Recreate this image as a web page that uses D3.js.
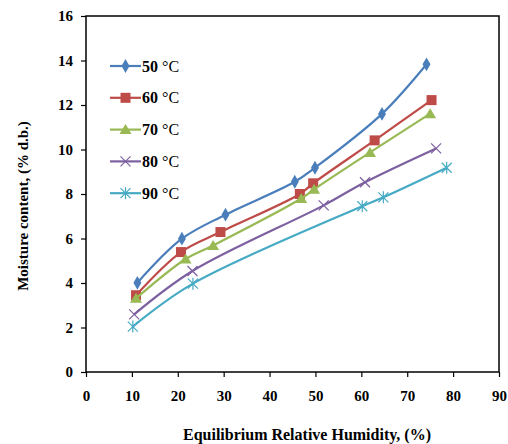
<!DOCTYPE html>
<html>
<head>
<meta charset="utf-8">
<script src="https://cdn.jsdelivr.net/npm/d3@7"></script>
<style>
  body { margin: 0; background: #fff; }
  svg text { font-family: "Times New Roman", "Liberation Serif", Times, "DejaVu Serif", serif; font-weight: bold; fill: #000; }
</style>
</head>
<body>
<div id="chart"></div>
<script>
// Series data (x = ERH %, y = moisture content % d.b.)
var seriesNames = ["50 °C", "60 °C", "70 °C", "80 °C", "90 °C"];
var seriesColors = ["#4A7EBB", "#BE4B48", "#98B954", "#7D60A0", "#46AAC5"];
var seriesMarkers = ["diamond", "square", "triangle", "cross", "star"];

var erh50 = [11.2, 20.9, 30.4, 45.5, 49.9, 64.5, 74.2];
var mc50  = [4.01, 5.99, 7.07, 8.55, 9.18, 11.6, 13.83];
var erh60 = [10.9, 20.7, 29.3, 46.6, 49.5, 62.9, 75.3];
var mc60  = [3.45, 5.39, 6.29, 8.0, 8.48, 10.41, 12.22];
var erh70 = [10.9, 21.7, 27.7, 46.9, 49.7, 61.9, 75.0];
var mc70  = [3.31, 5.08, 5.69, 7.8, 8.21, 9.87, 11.61];
var erh80 = [10.5, 23.2, 51.8, 60.8, 76.3];
var mc80  = [2.59, 4.54, 7.49, 8.53, 10.05];
var erh90 = [10.2, 23.3, 60.2, 64.8, 78.6];
var mc90  = [2.04, 3.97, 7.45, 7.85, 9.18];

var xTicks = [0, 10, 20, 30, 40, 50, 60, 70, 80, 90];
var yTicks = [0, 2, 4, 6, 8, 10, 12, 14, 16];

var allX = [erh50, erh60, erh70, erh80, erh90];
var allY = [mc50, mc60, mc70, mc80, mc90];

var series = seriesNames.map(function(name, i) {
  return {
    name: name,
    color: seriesColors[i],
    marker: seriesMarkers[i],
    points: allX[i].map(function(x, j) { return {x: x, y: allY[i][j]}; })
  };
});

// SVG area
var svgWidth = 508;
var svgHeight = 444;
var margin = {top: 16, right: 9, bottom: 72, left: 86};
var chartWidth = svgWidth - margin.left - margin.right;
var chartHeight = svgHeight - margin.top - margin.bottom;

var svg = d3.select("#chart")
  .append("svg")
  .attr("width", svgWidth)
  .attr("height", svgHeight);

var chartGroup = svg.append("g")
  .attr("transform", `translate(${margin.left}, ${margin.top})`);

var xScale = d3.scaleLinear().domain([0, 90]).range([0, chartWidth]);
var yScale = d3.scaleLinear().domain([0, 16]).range([chartHeight, 0]);

// Axes
var bottomAxis = d3.axisBottom(xScale).tickValues(xTicks).tickSize(5).tickPadding(13).tickSizeOuter(0);
var leftAxis = d3.axisLeft(yScale).tickValues(yTicks).tickSize(5).tickPadding(8).tickSizeOuter(0);

var xg = chartGroup.append("g")
  .attr("transform", `translate(0, ${chartHeight})`)
  .call(bottomAxis);
var yg = chartGroup.append("g").call(leftAxis);

[xg, yg].forEach(function(g) {
  g.attr("font-family", null).attr("font-size", null);
  g.select(".domain").remove();
  g.selectAll(".tick line").attr("stroke", "#000").attr("stroke-width", 1.2);
  g.selectAll(".tick text")
    .style("font-size", "15px")
    .attr("fill", "#000");
});

// Plot frame
chartGroup.append("rect")
  .attr("width", chartWidth)
  .attr("height", chartHeight)
  .attr("fill", "none")
  .attr("stroke", "#000")
  .attr("stroke-width", 1.5);

// Marker drawing
function drawMarker(g, type, color) {
  if (type === "diamond") {
    g.append("path").attr("d", d3.symbol(d3.symbolDiamond, 55)()).attr("fill", color);
  } else if (type === "square") {
    g.append("rect").attr("x", -5).attr("y", -5).attr("width", 10).attr("height", 10).attr("fill", color);
  } else if (type === "triangle") {
    g.append("path").attr("d", "M0,-5.5L6,4.5L-6,4.5Z").attr("fill", color);
  } else if (type === "cross") {
    g.append("path").attr("d", "M-5,-5L5,5M-5,5L5,-5")
      .attr("stroke", color).attr("stroke-width", 1.2).attr("fill", "none");
  } else if (type === "star") {
    g.append("path").attr("d", "M-5,-5L5,5M-5,5L5,-5M0,-6L0,6")
      .attr("stroke", color).attr("stroke-width", 1.2).attr("fill", "none");
  }
}

var line = d3.line()
  .x(d => xScale(d.x))
  .y(d => yScale(d.y))
  .curve(d3.curveCatmullRom.alpha(0.5));

series.forEach(function(s) {
  chartGroup.append("path")
    .datum(s.points)
    .attr("d", line)
    .attr("fill", "none")
    .attr("stroke", s.color)
    .attr("stroke-width", 2.2);

  s.points.forEach(function(p) {
    var m = chartGroup.append("g")
      .attr("transform", `translate(${xScale(p.x)}, ${yScale(p.y)})`);
    drawMarker(m, s.marker, s.color);
  });
});

// Legend
var legend = svg.append("g").attr("transform", "translate(110, 66)");
series.forEach(function(s, i) {
  var row = legend.append("g").attr("transform", `translate(0, ${i * 31.8})`);
  row.append("line")
    .attr("x1", 0).attr("x2", 31)
    .attr("stroke", s.color).attr("stroke-width", 2.2);
  var m = row.append("g").attr("transform", "translate(15.5, 0)");
  drawMarker(m, s.marker, s.color);
  var t = row.append("text")
    .attr("x", 32)
    .attr("y", 5.5)
    .style("font-size", "16px");
  var parts = s.name.split(" ");
  t.append("tspan").text(parts[0] + " ");
  t.append("tspan").style("font-weight", "normal").text(parts[1]);
});

// Axis titles
svg.append("text")
  .attr("x", 307)
  .attr("y", 440)
  .attr("text-anchor", "middle")
  .style("font-size", "16px")
  .text("Equilibrium Relative Humidity, (%)");

svg.append("text")
  .attr("transform", "translate(28, 206) rotate(-90)")
  .attr("text-anchor", "middle")
  .style("font-size", "15px")
  .text("Moisture content, (% d.b.)");
</script>
</body>
</html>
